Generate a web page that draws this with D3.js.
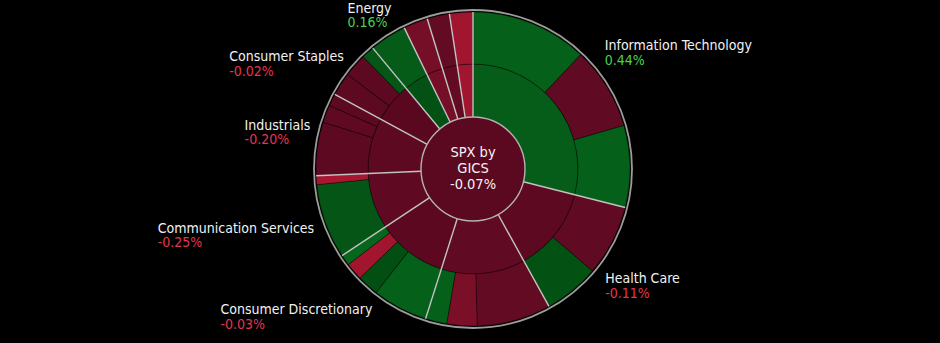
<!DOCTYPE html>
<html>
<head>
<meta charset="utf-8">
<script src="https://cdn.jsdelivr.net/npm/d3@7"></script>
<style>
  html, body { margin: 0; padding: 0; background: #000; }
  svg { display: block; }
  text { font-family: "DejaVu Sans Condensed", "DejaVu Sans", sans-serif; font-stretch: condensed; }
</style>
</head>
<body>
<svg id="chart" width="940" height="343"></svg>
<script>
// Index and sector level figures (daily % change, weight in index %)
const centerTitle = ["SPX by", "GICS"];
const indexReturn = -0.07;

const sectors = [
  "Information Technology", "Health Care", "Financials", "Consumer Discretionary",
  "Communication Services", "Industrials", "Consumer Staples", "Energy",
  "Materials", "Real Estate", "Utilities"
];
const sectorReturns = [0.44, -0.11, -0.35, -0.03, -0.25, -0.20, -0.02, 0.16, -0.75, -0.50, -1.40];
const labelledSectors = [
  "Information Technology", "Health Care", "Consumer Discretionary",
  "Communication Services", "Industrials", "Consumer Staples", "Energy"
];

// Industry groups, in drawing order within each sector
const industrySector = [
  "Information Technology", "Information Technology", "Information Technology",
  "Health Care", "Health Care",
  "Financials", "Financials", "Financials",
  "Consumer Discretionary", "Consumer Discretionary", "Consumer Discretionary", "Consumer Discretionary",
  "Communication Services", "Communication Services",
  "Industrials", "Industrials", "Industrials",
  "Consumer Staples", "Consumer Staples", "Consumer Staples",
  "Energy", "Materials", "Real Estate", "Utilities"
];
const industries = [
  "Software & Services", "Technology Hardware & Equipment", "Semiconductors",
  "Pharmaceuticals & Biotechnology", "Health Care Equipment & Services",
  "Banks", "Diversified Financials", "Insurance",
  "Retailing", "Consumer Services", "Automobiles & Components", "Consumer Durables & Apparel",
  "Media & Entertainment", "Telecommunication Services",
  "Capital Goods", "Transportation", "Commercial & Professional Services",
  "Food & Staples Retailing", "Household & Personal Products", "Food, Beverage & Tobacco",
  "Energy", "Materials", "Real Estate", "Utilities"
];
const industryWeights = [
  12.0, 8.5, 8.4,
  7.3, 5.7,
  7.6, 3.1, 2.2,
  5.7, 2.2, 1.8, 1.1,
  7.7, 0.9,
  5.5, 1.8, 1.25,
  2.4, 2.4, 1.3,
  3.8, 2.5, 2.3, 2.4
];
const industryReturns = [
  0.55, -0.35, 0.50,
  -0.35, 0.15,
  -0.50, -0.85, 0.50,
  0.50, 0.08, -1.40, 0.75,
  0.25, -1.50,
  -0.20, -0.25, -0.10,
  -0.10, -0.15, 0.30,
  0.40, -0.75, -0.50, -1.40
];

// ---- layout ----
const width = 940, height = 343;
const cx = 473, cy = 169;
const rCenter = 52, rMid = 105, rOuter = 157, rRing = 159, rLabel = 167;

const fmtNum = d3.formatLocale({ decimal: ".", thousands: ",", grouping: [3], currency: ["", ""], minus: "-" }).format(".2f");
const fmtPct = v => fmtNum(v) + "%";

// Diverging fill: reds for losses, greens for gains
const redScale = d3.scaleLinear().domain([0, 0.5, 1.5]).range(["#5a0820", "#640b24", "#a8172f"]).clamp(true);
const greenScale = d3.scaleLinear().domain([0, 0.5, 1.5]).range(["#034a12", "#05601a", "#0a7a22"]).clamp(true);
const fillFor = v => v < 0 ? redScale(-v) : greenScale(v);

// Build hierarchy: index -> sectors -> industries
const tree = {
  name: "SPX",
  ret: indexReturn,
  children: sectors.map((s, i) => ({
    name: s,
    ret: sectorReturns[i],
    children: industries
      .map((n, j) => ({ name: n, sector: industrySector[j], weight: industryWeights[j], ret: industryReturns[j] }))
      .filter(d => d.sector === s)
  }))
};

const root = d3.hierarchy(tree).sum(d => d.children ? 0 : d.weight);
d3.partition().size([2 * Math.PI, 1])(root);

const radii = [[0, rCenter], [rCenter, rMid], [rMid, rOuter]];
const arc = d3.arc()
  .startAngle(d => d.x0)
  .endAngle(d => d.x1)
  .innerRadius(d => radii[d.depth][0])
  .outerRadius(d => radii[d.depth][1]);

const svg = d3.select("#chart");
const g = svg.append("g").attr("transform", `translate(${cx},${cy})`);

// Sector and industry rings
g.append("g")
  .selectAll("path")
  .data(root.descendants().filter(d => d.depth > 0))
  .join("path")
  .attr("d", arc)
  .attr("fill", d => fillFor(d.data.ret))
  .attr("stroke", "rgba(0,0,0,0.45)")
  .attr("stroke-width", 0.8);

// Sector dividers
g.append("g")
  .selectAll("line")
  .data(root.children)
  .join("line")
  .each(function (d) {
    const p0 = d3.pointRadial(d.x0, rCenter);
    const p1 = d3.pointRadial(d.x0, rOuter);
    d3.select(this).attr("x1", p0[0]).attr("y1", p0[1]).attr("x2", p1[0]).attr("y2", p1[1]);
  })
  .attr("stroke", "#c4c4c4")
  .attr("stroke-width", 1.4);

// Outer rim
g.append("circle")
  .attr("r", rRing)
  .attr("fill", "none")
  .attr("stroke", "#9c9c9c")
  .attr("stroke-width", 1.8);

// Centre disc with index summary
g.append("circle")
  .attr("r", rCenter)
  .attr("fill", fillFor(root.data.ret))
  .attr("stroke", "#b4b4b4")
  .attr("stroke-width", 1.4);

const centerLines = centerTitle.concat([fmtPct(indexReturn)]);
g.append("g")
  .selectAll("text")
  .data(centerLines)
  .join("text")
  .attr("text-anchor", "middle")
  .attr("x", 0)
  .attr("y", (d, i) => -12 + i * 16)
  .attr("fill", "#f4f4f4")
  .attr("font-size", 14.5)
  .text(d => d);

// Sector labels around the rim
const labelNodes = root.children.filter(d => labelledSectors.includes(d.data.name));
const labels = g.append("g")
  .selectAll("g")
  .data(labelNodes)
  .join("g");

labels.append("text")
  .attr("class", "name")
  .attr("fill", "#f2f2f2")
  .attr("font-size", 14)
  .text(d => d.data.name);

labels.append("text")
  .attr("class", "value")
  .attr("fill", d => d.data.ret < 0 ? "#e3364f" : "#46d251")
  .attr("font-size", 14)
  .text(d => fmtPct(d.data.ret));

labels.each(function (d) {
  const sel = d3.select(this);
  const a = (d.x0 + d.x1) / 2;
  const [ax, ay] = d3.pointRadial(a, rLabel);
  const s = Math.sin(a), c = Math.cos(a);
  const nameW = sel.select(".name").node().getComputedTextLength();
  const valW = sel.select(".value").node().getComputedTextLength();
  const blockW = Math.max(nameW, valW);
  let x = s > 0 ? ax : ax - blockW;
  if (c > 0.8) x += 9;               // labels near the top sit a little inward
  let base;                          // baseline of the first line
  if (c > 0.8 || (c > 0.5 && s > 0)) base = ay - 16;
  else if (c < -0.25) base = ay + 12;
  else base = ay - 2;
  sel.select(".name").attr("x", x).attr("y", base);
  sel.select(".value").attr("x", x).attr("y", base + 14.7);
});
</script>
</body>
</html>
